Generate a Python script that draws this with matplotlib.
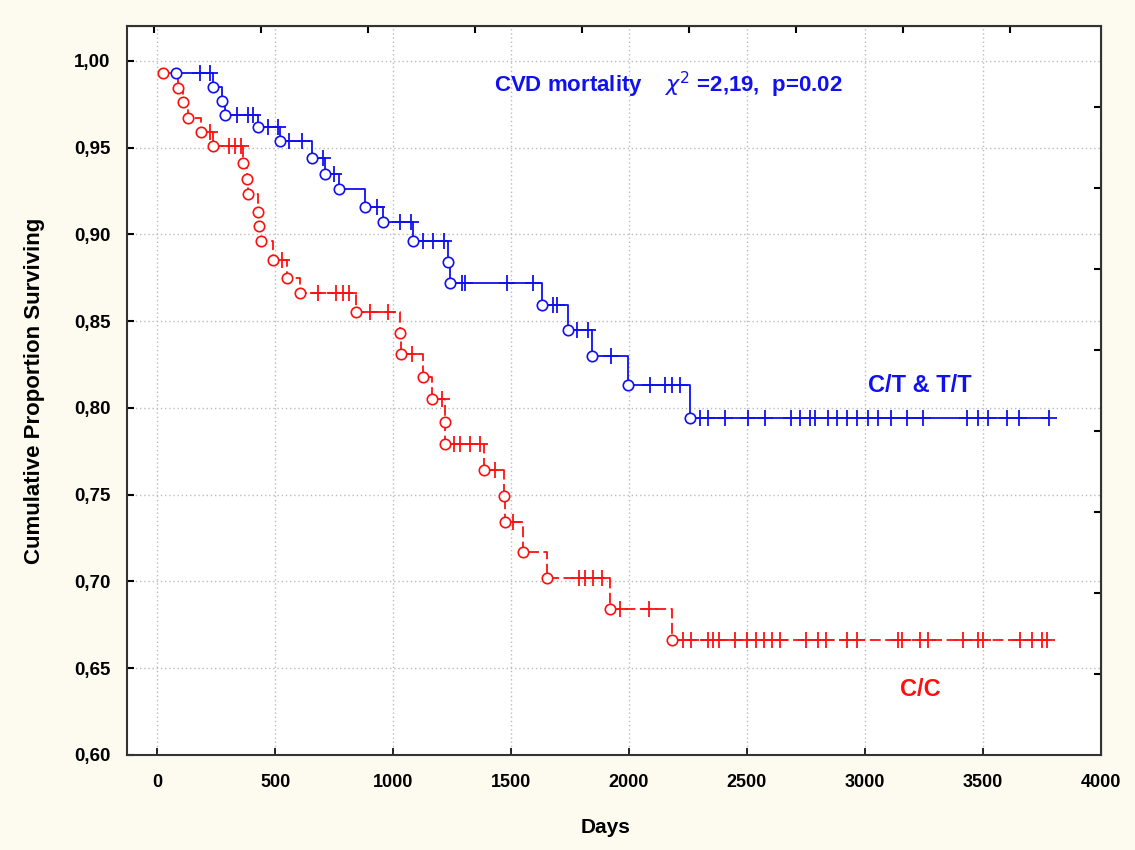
import matplotlib.pyplot as plt
import numpy as np
from matplotlib.ticker import FuncFormatter

# C/T & T/T group: event times (days) and survival after each event
ct_event_t = [80, 236, 274, 288, 427, 521, 655, 712, 773, 881, 959, 1083,
              1233, 1242, 1630, 1740, 1845, 1996, 2258]
ct_event_s = [0.993, 0.985, 0.977, 0.969, 0.962, 0.954, 0.944, 0.935, 0.926,
              0.916, 0.907, 0.896, 0.884, 0.872, 0.859, 0.845, 0.830, 0.813, 0.794]
ct_censor_t = [180, 225, 337, 387, 408, 470, 513, 559, 613, 704, 750, 931,
               1030, 1075, 1127, 1170, 1215, 1291, 1307, 1482, 1595, 1678, 1695,
               1778, 1825, 1922, 2089, 2153, 2182, 2216, 2300, 2336, 2407, 2505,
               2576, 2685, 2725, 2767, 2788, 2842, 2880, 2922, 2965, 3014, 3055,
               3109, 3177, 3244, 3431, 3480, 3522, 3600, 3654, 3781]

# C/C group
cc_event_t = [27, 90, 110, 131, 185, 236, 366, 380, 387, 429, 432, 439, 490,
              549, 606, 843, 1030, 1035, 1129, 1164, 1220, 1222, 1387, 1470,
              1475, 1549, 1651, 1919, 2181]
cc_event_s = [0.993, 0.984, 0.976, 0.967, 0.959, 0.951, 0.941, 0.932, 0.923,
              0.913, 0.905, 0.896, 0.885, 0.875, 0.866, 0.855, 0.843, 0.831,
              0.818, 0.805, 0.792, 0.779, 0.764, 0.749, 0.734, 0.717, 0.702,
              0.684, 0.666]
cc_censor_t = [225, 305, 330, 355, 528, 682, 760, 790, 815, 903, 979, 1081,
               1206, 1260, 1284, 1326, 1369, 1432, 1510, 1790, 1814, 1849, 1884,
               1962, 2086, 2228, 2261, 2336, 2357, 2383, 2449, 2498, 2538, 2572,
               2607, 2640, 2750, 2802, 2836, 2925, 2967, 3138, 3155, 3233, 3268,
               3417, 3480, 3501, 3657, 3706, 3749, 3770]

title_text = r"CVD mortality    $\chi^2$ =2,19,  p=0.02"
ct_label = "C/T & T/T"
cc_label = "C/C"

blue = '#1010F0'
red = '#FF1010'
bg = '#FDFBF0'
sans = ['Liberation Sans', 'DejaVu Sans']


def km_curve(ax, ev_t, ev_s, cen_t, color, ls):
    ev_t = np.array(ev_t, float)
    ev_s = np.array(ev_s, float)
    cen_t = np.array(cen_t, float)
    xs = np.append(ev_t, cen_t.max())
    ys = np.append(ev_s, ev_s[-1])
    ax.plot(xs, ys, drawstyle='steps-post', color=color, lw=1.3, ls=ls, zorder=3)
    idx = np.searchsorted(ev_t, cen_t, side='right') - 1
    cen_s = ev_s[np.clip(idx, 0, None)]
    ax.plot(cen_t, cen_s, ls='none', marker='+', ms=11, mew=1.3, color=color, zorder=4)
    ax.plot(ev_t, ev_s, ls='none', marker='o', ms=7.5, mew=1.2, mfc='white',
            mec=color, zorder=5)


fig = plt.figure(figsize=(11.35, 8.5), dpi=100, facecolor=bg)
ax = fig.add_axes([0.1122, 0.1118, 0.8578, 0.8576])
ax.set_facecolor('white')

km_curve(ax, ct_event_t, ct_event_s, ct_censor_t, blue, '-')
km_curve(ax, cc_event_t, cc_event_s, cc_censor_t, red, (0, (6, 2.5)))

ax.set_xlim(-126, 4000)
ax.set_ylim(0.60, 1.02)
ax.set_xticks(np.arange(0, 4001, 500))
ax.set_yticks(np.arange(0.60, 1.001, 0.05))
ax.yaxis.set_major_formatter(FuncFormatter(lambda v, _: f"{v:.2f}".replace('.', ',')))

ax.grid(True, color='#BBBBBB', ls=(0, (1, 2)), lw=1)
ax.set_axisbelow(True)
for sp in ax.spines.values():
    sp.set_color('#333333')
    sp.set_linewidth(1.5)

ax.tick_params(axis='y', direction='in', length=5, width=1.5, pad=12,
               labelsize=13.5)
ax.tick_params(axis='x', direction='in', length=5, width=1.2, pad=14,
               labelsize=13)
for lab in ax.get_yticklabels() + ax.get_xticklabels():
    lab.set_fontfamily(sans)
    lab.set_fontweight('bold')

# unlabelled ticks on the top and right frame
top = ax.secondary_xaxis('top')
top.set_xticks(-13 + 453.4 * np.arange(9))
top.tick_params(direction='in', length=5, width=1.5, labeltop=False)
right = ax.secondary_yaxis('right')
right.set_yticks(np.linspace(0.60, 1.02, 10)[1:-1])
right.tick_params(direction='in', length=5, width=1.5, labelright=False)

ax.set_xlabel('Days', fontsize=15, fontweight='bold', family=sans)
ax.set_ylabel('Cumulative Proportion Surviving', fontsize=16, fontweight='bold',
              family=sans)
ax.xaxis.set_label_coords(0.491, -0.086)
ax.yaxis.set_label_coords(-0.085, 0.5)

ax.text(2165, 0.986, title_text, color=blue, fontsize=16, fontweight='bold',
        ha='center', va='center', family=sans)
ax.text(3233, 0.8127, ct_label, color=blue, fontsize=17, fontweight='bold',
        ha='center', va='center', family=sans)
ax.text(3233, 0.6375, cc_label, color=red, fontsize=17, fontweight='bold',
        ha='center', va='center', family=sans)

fig.savefig('out.png', dpi=100, facecolor=bg)
